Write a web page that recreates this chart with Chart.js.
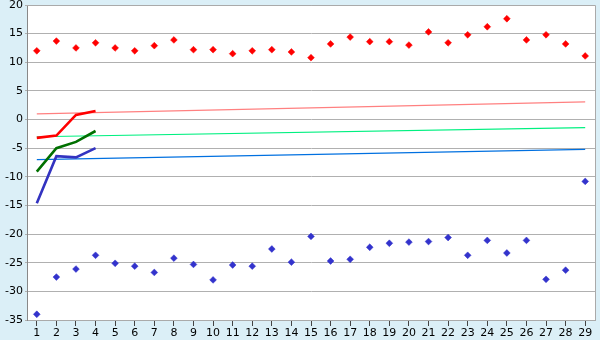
<!DOCTYPE html>
<html>
<head>
<meta charset="UTF-8">
<title>Temperaturas</title>
<script src="https://cdn.jsdelivr.net/npm/chart.js"></script>
<style>
  html, body { margin: 0; padding: 0; background: #dbeff7; }
  #wrap { width: 600px; height: 340px; }
</style>
</head>
<body>
<div id="wrap"><canvas id="grafico" width="600" height="340"></canvas></div>
<script>
  // dias do mês
  const dias = ['1','2','3','4','5','6','7','8','9','10','11','12','13','14','15','16','17','18','19','20','21','22','23','24','25','26','27','28','29'];

  // máximas e mínimas (pontos)
  const maximas = [12.0, 13.7, 12.5, 13.4, 12.5, 12.0, 12.9, 13.9, 12.2, 12.2, 11.5, 12.0, 12.2, 11.8, 10.8,
                   13.2, 14.4, 13.6, 13.6, 13.0, 15.3, 13.4, 14.8, 16.2, 17.6, 13.9, 14.8, 13.2, 11.1];
  const minimas = [-34.0, -27.5, -26.1, -23.7, -25.1, -25.6, -26.7, -24.2, -25.3, -28.0, -25.4, -25.6, -22.6, -24.9, -20.4,
                   -24.7, -24.4, -22.3, -21.6, -21.4, -21.3, -20.6, -23.7, -21.1, -23.3, -21.1, -27.9, -26.3, -10.8];

  // linhas grossas (primeiros dias)
  const mediaMax = [-3.2, -2.8, 0.8, 1.5];
  const mediaDia = [-9.1, -5.0, -3.9, -2.0];
  const mediaMin = [-14.6, -6.4, -6.6, -5.0];

  // linhas finas (início e fim)
  const normalMax = [1.0, 3.1];
  const normalDia = [-3.0, -1.4];
  const normalMin = [-7.0, -5.2];

  function pontas(v) {
    const arr = dias.map(() => null);
    arr[0] = v[0];
    arr[dias.length - 1] = v[1];
    return arr;
  }

  const fundo = {
    id: 'fundo',
    beforeDraw(chart) {
      const { ctx, chartArea: a } = chart;
      ctx.save();
      ctx.fillStyle = '#dbeff7';
      ctx.fillRect(0, 0, chart.width, chart.height);
      ctx.fillStyle = '#ffffff';
      ctx.fillRect(a.left, a.top, a.right - a.left, a.bottom - a.top);
      ctx.restore();
    },
    afterDraw(chart) {
      const { ctx, chartArea: a } = chart;
      ctx.save();
      ctx.strokeStyle = '#aaaaaa';
      ctx.lineWidth = 1;
      ctx.beginPath();
      ctx.moveTo(a.left, a.top + 0.5);
      ctx.lineTo(a.right + 0.5, a.top + 0.5);
      ctx.lineTo(a.right + 0.5, a.bottom);
      ctx.stroke();
      ctx.restore();
    }
  };

  const fina = (cor) => ({ borderColor: cor, borderWidth: 1.2, pointRadius: 0, spanGaps: true, fill: false, order: 3 });
  const grossa = (cor) => ({ borderColor: cor, borderWidth: 2.6, pointRadius: 0, fill: false, tension: 0, order: 2 });

  new Chart(document.getElementById('grafico'), {
    type: 'line',
    data: {
      labels: dias,
      datasets: [
        { label: 'normal max', data: pontas(normalMax), ...fina('#ff8080') },
        { label: 'normal dia', data: pontas(normalDia), ...fina('#00f080') },
        { label: 'normal min', data: pontas(normalMin), ...fina('#0070e0') },
        { label: 'média max', data: mediaMax, ...grossa('#ff0000') },
        { label: 'média dia', data: mediaDia, ...grossa('#007000') },
        { label: 'média min', data: mediaMin, ...grossa('#3333c0') },
        { label: 'máxima', data: maximas, showLine: false, pointStyle: 'rectRot', pointRadius: 3.4,
          pointBackgroundColor: '#ff0000', pointBorderColor: '#ff0000', pointBorderWidth: 0.5, order: 1 },
        { label: 'mínima', data: minimas, showLine: false, pointStyle: 'rectRot', pointRadius: 3.4,
          pointBackgroundColor: '#3333cc', pointBorderColor: '#3333cc', pointBorderWidth: 0.5, order: 1 }
      ]
    },
    options: {
      responsive: false,
      animation: false,
      layout: { padding: { top: 5, right: 5, left: 0, bottom: 0 } },
      plugins: { legend: { display: false }, tooltip: { enabled: false } },
      scales: {
        x: {
          offset: true,
          grid: { drawOnChartArea: false, offset: false, color: '#444444', tickLength: 6 },
          border: { color: '#aaaaaa' },
          ticks: { color: '#000', font: { family: 'DejaVu Sans', size: 11 }, padding: 1, maxRotation: 0, autoSkip: false },
          afterFit(s) { s.height = 20; s.paddingRight = 0; s.paddingLeft = 0; }
        },
        y: {
          min: -35, max: 20,
          grid: { color: '#b0b0b0', tickLength: 2 },
          border: { color: '#888888' },
          ticks: { stepSize: 5, color: '#000', font: { family: 'DejaVu Sans', size: 11 }, padding: 2 },
          afterFit(s) { s.width = 27; s.paddingTop = 0; s.paddingBottom = 0; }
        }
      }
    },
    plugins: [fundo]
  });
</script>
</body>
</html>
